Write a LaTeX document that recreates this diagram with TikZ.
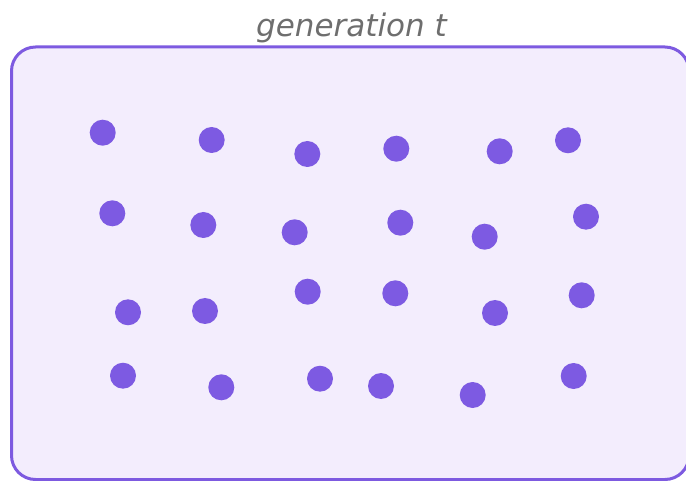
\documentclass[tikz,border=0pt]{standalone}
\usepackage{fontspec}
\setmainfont{DejaVu Sans}
\definecolor{dotc}{HTML}{7D5AE2}
\definecolor{boxfill}{HTML}{F3EDFD}
\definecolor{boxline}{HTML}{7D5AE0}
\definecolor{titlec}{HTML}{6E6E6E}
\begin{document}
\begin{tikzpicture}[x=1pt,y=-1pt,
  dot/.style={circle,fill=dotc,minimum size=26pt,inner sep=0pt,draw=none},
  genbox/.style={draw=boxline,fill=boxfill,line width=3pt,rounded corners=24pt},
  gentitle/.style={text=titlec,font=\fontsize{31}{36}\selectfont\itshape,anchor=base,inner sep=0pt}]
\useasboundingbox (0,0) rectangle (686,481);
\begin{scope}
\clip (0,0) rectangle (686,481);
\draw[genbox] (11.5,47) rectangle (689,479.5);
\end{scope}
\node[gentitle] (title) at (351.5,36.7) {generation t};
% row 1
\node[dot] (d11) at (102.7,132.7) {};
\node[dot] (d12) at (211.7,140) {};
\node[dot] (d13) at (307.3,154) {};
\node[dot] (d14) at (396.3,148.7) {};
\node[dot] (d15) at (499.7,151.3) {};
\node[dot] (d16) at (568,140.3) {};
% row 2
\node[dot] (d21) at (112.3,213.3) {};
\node[dot] (d22) at (203.3,225) {};
\node[dot] (d23) at (294.7,232.3) {};
\node[dot] (d24) at (400.3,222.7) {};
\node[dot] (d25) at (484.7,236.7) {};
\node[dot] (d26) at (586,216.7) {};
% row 3
\node[dot] (d31) at (128,312.3) {};
\node[dot] (d32) at (205,311) {};
\node[dot] (d33) at (307.7,291.7) {};
\node[dot] (d34) at (395.3,293.3) {};
\node[dot] (d35) at (495,313) {};
\node[dot] (d36) at (581.7,295.3) {};
% row 4
\node[dot] (d41) at (123,375.7) {};
\node[dot] (d42) at (221.3,387.3) {};
\node[dot] (d43) at (320,378.7) {};
\node[dot] (d44) at (381,386) {};
\node[dot] (d45) at (472.7,395) {};
\node[dot] (d46) at (573.7,376) {};
\end{tikzpicture}
\end{document}
